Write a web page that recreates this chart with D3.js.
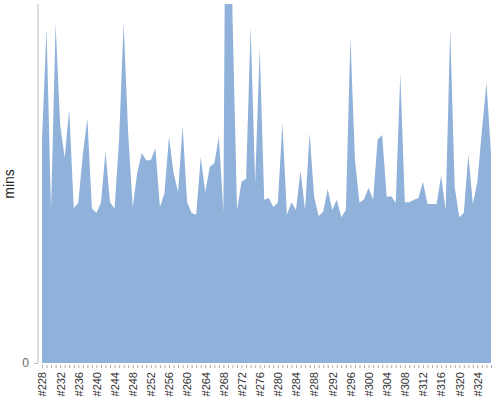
<!DOCTYPE html>
<html>
<head>
<meta charset="utf-8">
<script src="https://cdn.jsdelivr.net/npm/d3@7"></script>
<style>
  body { margin: 0; background: #fff; }
  text { font-family: "Liberation Sans", Arial, sans-serif; }
</style>
</head>
<body>
<svg width="500" height="400"></svg>
<script>
const firstBuild = 228;
const builds = d3.range(firstBuild, firstBuild + 100).map(d => "#" + d);
const mins = [
  37.2, 55.8, 25.5, 56.5, 39.7, 34.2, 42.2, 25.8, 26.7, 34.7,
  40.8, 25.8, 25.0, 26.7, 35.2, 26.8, 25.7, 37.2, 56.7, 38.3,
  26.0, 31.7, 35.0, 33.8, 33.8, 35.8, 26.0, 28.3, 37.7, 31.7,
  28.5, 39.5, 26.8, 25.0, 24.7, 34.3, 28.5, 32.7, 33.3, 37.7,
  25.2, 150, 58.0, 25.5, 30.2, 30.7, 56.0, 30.0, 52.5, 27.2,
  27.5, 26.0, 26.7, 40.0, 24.7, 26.8, 25.5, 32.0, 25.5, 38.3,
  27.7, 24.5, 25.2, 29.0, 25.5, 27.2, 24.3, 25.5, 54.3, 33.8,
  26.7, 27.3, 29.2, 27.2, 37.2, 38.0, 27.7, 27.8, 26.7, 48.2,
  26.8, 26.8, 27.2, 27.5, 30.2, 26.5, 26.5, 26.5, 31.2, 25.5,
  55.7, 29.3, 24.3, 25.0, 34.7, 26.5, 30.2, 38.8, 46.7, 35.0
];
const yTicks = [0];
const yMax = 60;

const svg = d3.select("svg");

const x = d3.scalePoint().domain(builds).range([42, 491]);
const y = d3.scaleLinear().domain([0, yMax]).range([363, 3]);

svg.append("clipPath")
  .attr("id", "plot")
  .append("rect")
  .attr("x", 38).attr("y", 4)
  .attr("width", 460).attr("height", 360);

const area = d3.area()
  .x((d, i) => x(builds[i]))
  .y0(y(0))
  .y1(d => y(d));

svg.append("path")
  .datum(mins)
  .attr("clip-path", "url(#plot)")
  .attr("fill", "#8fb1da")
  .attr("d", area);

// y axis
const yAxis = svg.append("g")
  .attr("transform", "translate(38, 0)")
  .call(d3.axisLeft(y).tickValues(yTicks).tickSize(4).tickPadding(5));
yAxis.select(".domain").attr("d", "M0,4V363").attr("stroke", "#bbb");
yAxis.selectAll(".tick line").attr("stroke", "#bbb");
yAxis.selectAll("text").attr("fill", "#666").attr("font-size", 12);

svg.append("text")
  .attr("transform", "translate(14, 184) rotate(-90)")
  .attr("text-anchor", "middle")
  .attr("font-size", 14)
  .attr("fill", "#222")
  .text("mins");

// x axis
const xAxis = svg.append("g")
  .attr("transform", "translate(0, 365)")
  .call(d3.axisBottom(x).tickSize(3).tickFormat((d, i) => i % 4 === 0 ? d : ""));
xAxis.select(".domain").remove();
xAxis.selectAll(".tick line").attr("stroke", "#aaa");
xAxis.selectAll("text")
  .attr("font-size", 11)
  .attr("fill", "#333")
  .attr("text-anchor", "end")
  .attr("transform", "rotate(-90)")
  .attr("x", -7)
  .attr("y", 0)
  .attr("dy", "0.35em");
</script>
</body>
</html>
